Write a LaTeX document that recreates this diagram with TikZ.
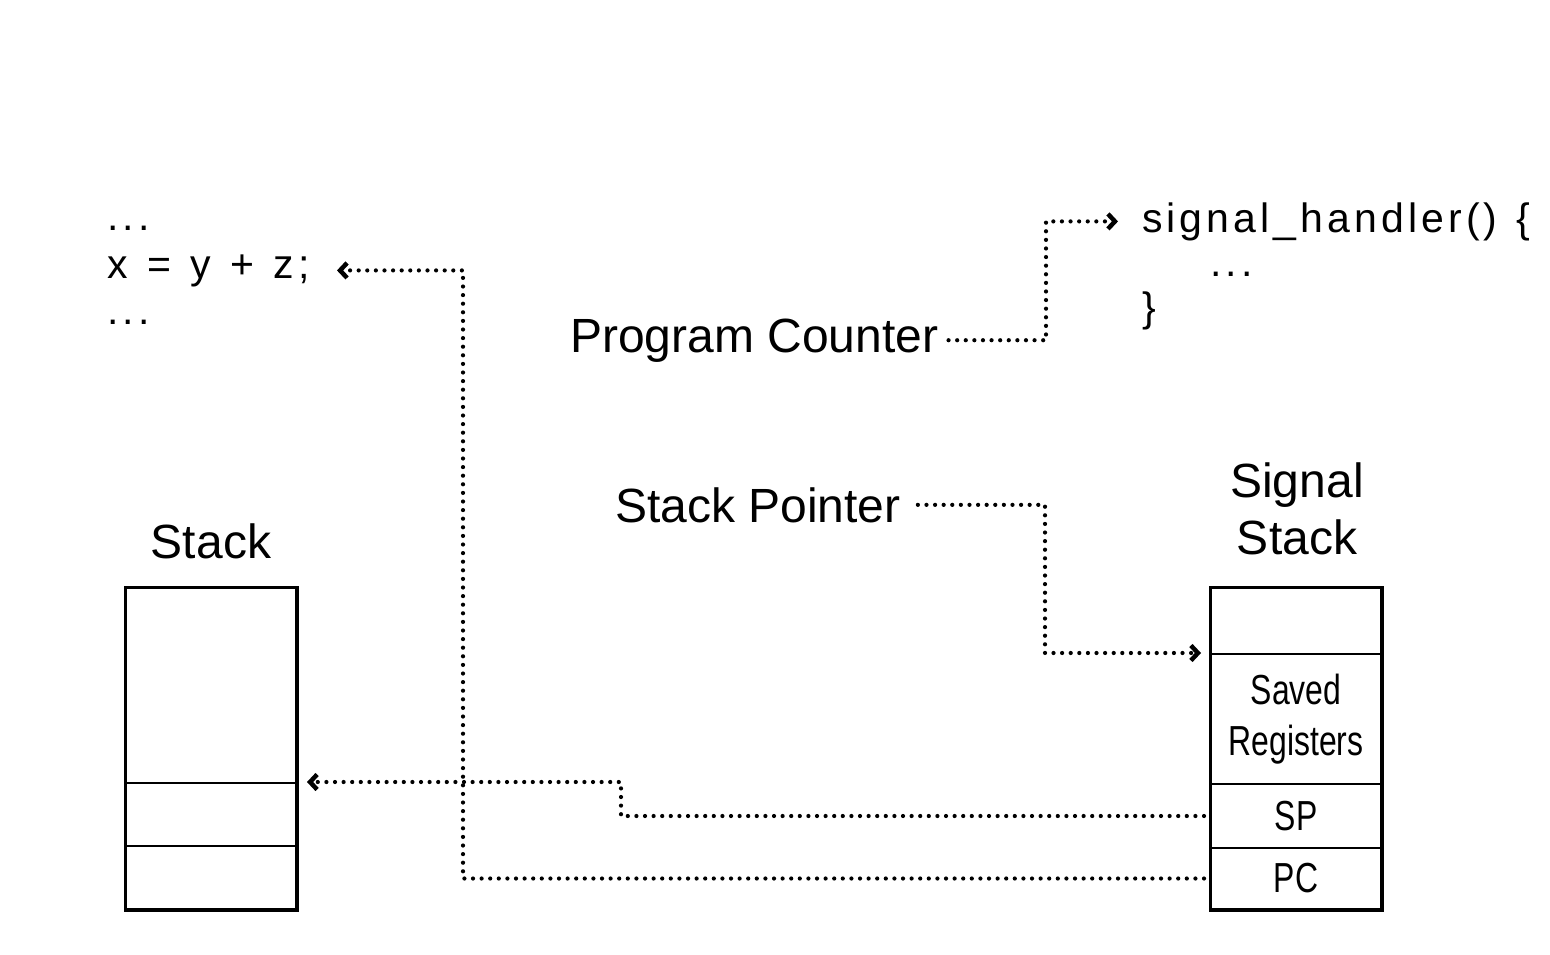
\documentclass[tikz,border=0pt]{standalone}
\usepackage{fontspec}
\setmainfont{Liberation Sans}
\newfontfamily\codefont[LetterSpace=10,WordSpace=1.25]{Liberation Sans}
\newfontfamily\condfont[FakeStretch=0.76]{Liberation Sans}
\usetikzlibrary{arrows.meta}
\begin{document}
\begin{tikzpicture}[x=1pt,y=-1pt,
  lbl/.style={font=\fontsize{48}{58}\selectfont, inner sep=0pt, anchor=base west},
  title/.style={font=\fontsize{48}{58}\selectfont, inner sep=0pt, anchor=base},
  code/.style={font=\codefont\fontsize{41}{48}\selectfont, inner sep=0pt, anchor=base west},
  cell/.style={draw, line width=2pt, minimum width=170pt, inner sep=0pt,
    font=\condfont\fontsize{42}{51}\selectfont, align=center},
  frame/.style={draw, line width=3pt},
  dotline/.style={line width=4.2pt, line cap=round, dash pattern=on 0pt off 8.6pt},
  tip/.style={-{Straight Barb[length=7pt,width=15pt,line width=4.5pt]}}
]
\useasboundingbox (0,0) rectangle (1550,955);

% code on the left
\node[code] (d1) at (107,230) {...};
\node[code] (xl) at (107,278) {x = y + z;};
\node[code] (d2) at (107,324) {...};

% signal handler code
\node[code] (hd) at (1142,232) {signal\_handler() \{};
\node[code] (hdots) at (1210,276) {...};
\node[code] (hend) at (1142,321) {\}};

% labels
\node[lbl] (pc) at (570,352) {Program Counter};
\node[lbl] (sp) at (615,522) {Stack Pointer};
\node[title] (stk) at (211,558) {Stack};
\node[title] (sig1) at (1297,497) {Signal};
\node[title] (sig2) at (1297,554) {Stack};

% left stack
\node[cell, minimum height=195pt] (l1) at (211,685.5) {};
\node[cell, minimum height=63pt] (l2) at (211,814.5) {};
\node[cell, minimum height=63pt] (l3) at (211,877.5) {};
\draw[frame] (l1.north west) rectangle (l3.south east);

% signal stack
\node[cell, minimum height=66pt] (s1) at (1296,621) {};
\node[cell, minimum height=130pt] (s2) at (1296,719) {Saved\\Registers};
\node[cell, minimum height=64pt] (s3) at (1296,816) {SP};
\node[cell, minimum height=61pt] (s4) at (1296,878.5) {PC};
\draw[frame] (s1.north west) rectangle (s4.south east);

% connectors
\draw[dotline,tip] ([xshift=10pt]pc.east) -| ([xshift=-96pt]hd.west) -- ([xshift=-24pt]hd.west);
\draw[dotline,tip] ([xshift=17pt]sp.east) -| ([xshift=-165pt]s2.north west) -- ([xshift=-9pt]s2.north west);
\draw[dotline,tip] ([xshift=-6pt]s3.west) -| ([xshift=324pt]l2.north east) -- ([xshift=10pt]l2.north east);
\draw[dotline,tip] ([xshift=-6pt]s4.west) -| ([xshift=356pt]xl.west) -- ([xshift=230pt]xl.west);
\end{tikzpicture}
\end{document}
